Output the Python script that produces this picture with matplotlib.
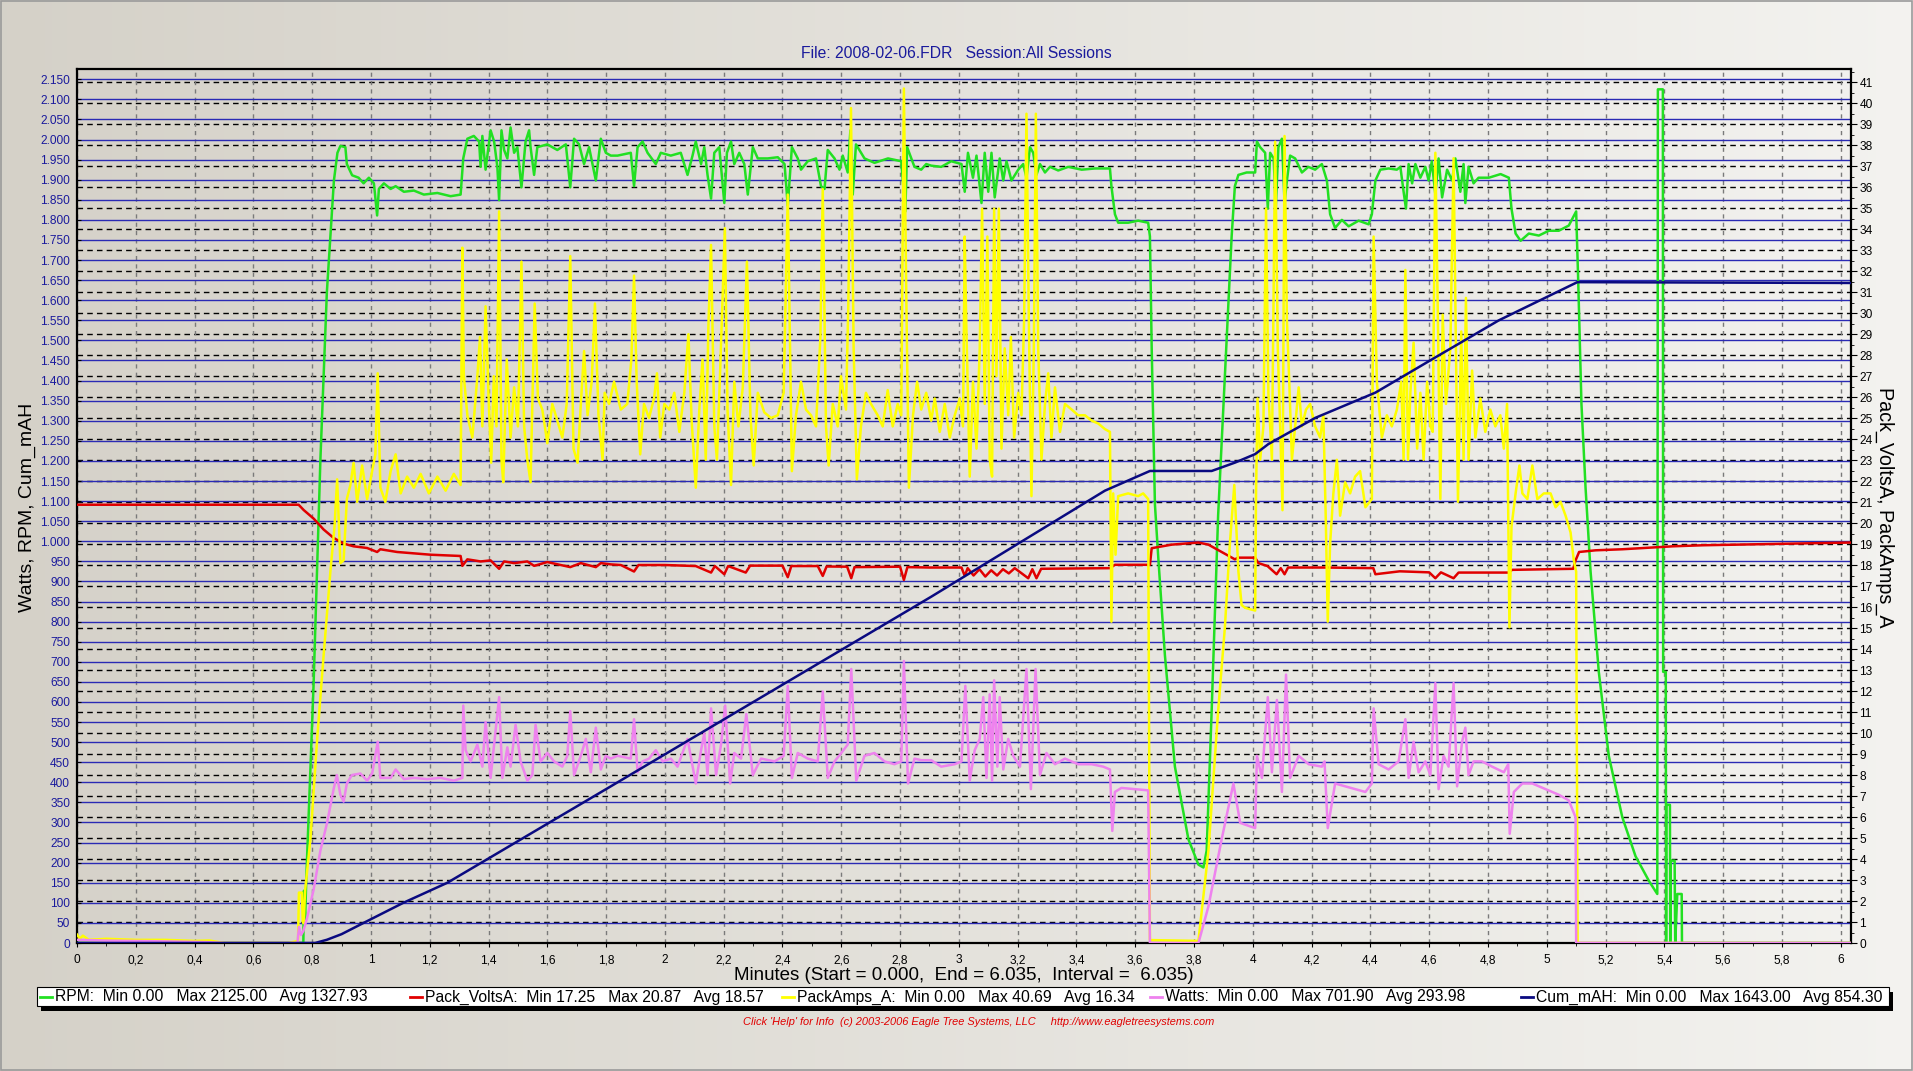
import numpy as np
import matplotlib
matplotlib.use("Agg")
import matplotlib.pyplot as plt
from matplotlib.ticker import MultipleLocator, FuncFormatter
from matplotlib.lines import Line2D
from matplotlib.patches import Rectangle

plt.rcParams['font.family'] = ['Liberation Sans', 'DejaVu Sans']

# ---- data (minutes vs value) ----
rpm_t = [0, 0.765, 0.770, 0.772, 0.776, 0.780, 0.805, 0.828, 0.85, 0.874, 0.886, 0.896, 0.913, 0.918, 0.936, 0.958,
         0.975, 0.993, 1.01, 1.021, 1.027, 1.044, 1.067, 1.084, 1.112, 1.146, 1.18, 1.226, 1.271, 1.305, 1.314, 1.328,
         1.35, 1.368, 1.373, 1.379, 1.39, 1.407, 1.419, 1.43, 1.436, 1.444, 1.453, 1.464, 1.475, 1.487, 1.498, 1.512,
         1.526, 1.538, 1.543, 1.555, 1.566, 1.6, 1.634, 1.663, 1.678, 1.691, 1.708, 1.725, 1.742, 1.765, 1.782, 1.799,
         1.816, 1.839, 1.884, 1.895, 1.907, 1.924, 1.941, 1.969, 1.986, 2.02, 2.054, 2.077, 2.094, 2.105, 2.123, 2.134,
         2.145, 2.157, 2.168, 2.185, 2.202, 2.211, 2.225, 2.236, 2.253, 2.27, 2.282, 2.299, 2.316, 2.35, 2.384, 2.407,
         2.418, 2.432, 2.452, 2.463, 2.486, 2.514, 2.531, 2.543, 2.554, 2.577, 2.594, 2.605, 2.622, 2.631, 2.639, 2.65,
         2.679, 2.713, 2.759, 2.804, 2.818, 2.824, 2.849, 2.872, 2.889, 2.906, 2.94, 2.974, 3.009, 3.02, 3.031, 3.048,
         3.06, 3.077, 3.088, 3.1, 3.111, 3.122, 3.139, 3.151, 3.162, 3.179, 3.202, 3.219, 3.23, 3.242, 3.253, 3.264,
         3.276, 3.293, 3.31, 3.338, 3.372, 3.418, 3.463, 3.514, 3.519, 3.531, 3.542, 3.576, 3.61, 3.644, 3.65, 3.656,
         3.667, 3.679, 3.701, 3.735, 3.781, 3.815, 3.832, 3.843, 3.86, 3.882, 3.905, 3.928, 3.939, 3.951, 3.979, 4.008,
         4.014, 4.025, 4.042, 4.051, 4.059, 4.071, 4.078, 4.087, 4.099, 4.108, 4.116, 4.127, 4.144, 4.167, 4.189, 4.212,
         4.235, 4.252, 4.263, 4.28, 4.303, 4.326, 4.36, 4.394, 4.405, 4.417, 4.434, 4.462, 4.49, 4.502, 4.513, 4.521,
         4.53, 4.542, 4.553, 4.57, 4.587, 4.598, 4.609, 4.621, 4.632, 4.644, 4.661, 4.678, 4.689, 4.706, 4.717, 4.723,
         4.734, 4.751, 4.768, 4.803, 4.843, 4.871, 4.88, 4.894, 4.911, 4.939, 4.973, 5.007, 5.041, 5.075, 5.093, 5.1,
         5.107, 5.118, 5.132, 5.149, 5.177, 5.211, 5.257, 5.302, 5.348, 5.376, 5.378, 5.395, 5.396, 5.405, 5.406, 5.407,
         5.419, 5.42, 5.422, 5.435, 5.437, 5.444, 5.459, 5.46, 6.035]
rpm = [0, 0, 0, 130, 60, 160, 647, 1203, 1620, 1898, 1967, 1984, 1981, 1939, 1911, 1905,
       1891, 1905, 1891, 1811, 1877, 1891, 1877, 1884, 1870, 1873, 1863, 1867, 1859, 1863, 1953, 2002,
       2009, 1995, 1932, 2009, 1925, 2023, 1995, 1932, 1849, 2023, 1974, 1953, 2030, 1967, 1981, 1881,
       1995, 2023, 1981, 1912, 1981, 1988, 1974, 1988, 1881, 2002, 1988, 1939, 1981, 1898, 2002, 1967,
       1960, 1960, 1967, 1884, 1981, 1995, 1967, 1939, 1967, 1960, 1967, 1912, 1960, 1995, 1939, 1981,
       1912, 1853, 1967, 1981, 1842, 1967, 1995, 1939, 1967, 1939, 1863, 1981, 1953, 1953, 1956, 1939,
       1835, 1981, 1953, 1925, 1946, 1953, 1884, 1877, 1974, 1953, 1925, 1960, 1918, 2023, 1863, 1988,
       1953, 1942, 1953, 1946, 1821, 1981, 1932, 1925, 1939, 1935, 1932, 1946, 1939, 1870, 1967, 1905,
       1960, 1842, 1967, 1870, 1967, 1856, 1953, 1898, 1946, 1898, 1925, 1939, 1905, 1981, 1967, 1912,
       1939, 1918, 1932, 1923, 1932, 1925, 1928, 1928, 1884, 1814, 1793, 1793, 1798, 1793, 1759, 1481,
       1092, 953, 716, 439, 258, 195, 188, 230, 578, 1064, 1411, 1759, 1884, 1912, 1918, 1918,
       1995, 1981, 1967, 1828, 1967, 1953, 1828, 1981, 2002, 1842, 1898, 1960, 1953, 1918, 1932, 1925,
       1939, 1898, 1814, 1780, 1800, 1784, 1798, 1789, 1814, 1898, 1925, 1928, 1925, 1932, 1870, 1828,
       1939, 1891, 1939, 1905, 1932, 1898, 1946, 1863, 1953, 1856, 1925, 1898, 1953, 1870, 1939, 1842,
       1932, 1891, 1905, 1905, 1914, 1905, 1828, 1766, 1748, 1766, 1761, 1773, 1773, 1786, 1811, 1821,
       1648, 1342, 1133, 925, 675, 466, 313, 216, 154, 122, 2125, 2125, 675, 675, 0, 344,
       344, 0, 205, 205, 0, 122, 122, 0, 0]

volts_t = [0, 0.754, 0.771, 0.805, 0.839, 0.873, 0.907, 0.941, 0.987, 1.021, 1.032, 1.089, 1.203, 1.305, 1.311,
           1.328, 1.373, 1.407, 1.436, 1.453, 1.487, 1.532, 1.555, 1.6, 1.678, 1.714, 1.765, 1.782, 1.816, 1.85,
           1.895, 1.91, 2.0, 2.105, 2.157, 2.17, 2.202, 2.215, 2.275, 2.29, 2.4, 2.418, 2.43, 2.52, 2.537, 2.55,
           2.62, 2.634, 2.645, 2.8, 2.813, 2.825, 2.9, 3.009, 3.02, 3.03, 3.05, 3.07, 3.09, 3.11, 3.13, 3.15,
           3.17, 3.19, 3.236, 3.25, 3.264, 3.28, 3.514, 3.531, 3.65, 3.656, 3.724, 3.815, 3.849, 3.894, 3.939,
           3.95, 4.008, 4.019, 4.05, 4.081, 4.095, 4.108, 4.12, 4.25, 4.41, 4.417, 4.5, 4.6, 4.621, 4.64, 4.683,
           4.7, 4.87, 4.882, 5.09, 5.098, 5.11, 5.166, 5.257, 5.428, 5.53, 6.035]
volts = [20.87, 20.87, 20.62, 20.21, 19.69, 19.29, 19.02, 18.89, 18.81, 18.62, 18.75, 18.62, 18.49, 18.43, 17.96,
         18.27, 18.17, 18.22, 17.82, 18.17, 18.09, 18.17, 17.96, 18.14, 17.9, 18.09, 17.9, 18.09, 18.03, 18.0,
         17.69, 18.0, 18.0, 17.95, 17.64, 17.95, 17.56, 17.95, 17.64, 17.97, 17.97, 17.42, 17.95, 17.95, 17.48, 17.93,
         17.92, 17.37, 17.9, 17.92, 17.29, 17.9, 17.88, 17.88, 17.48, 17.85, 17.5, 17.8, 17.45, 17.75, 17.5, 17.8,
         17.6, 17.85, 17.37, 17.8, 17.37, 17.82, 17.85, 18.01, 18.01, 18.8, 18.97, 19.07, 18.97, 18.62, 18.27,
         18.35, 18.35, 18.09, 17.95, 17.56, 17.85, 17.56, 17.88, 17.88, 17.85, 17.56, 17.7, 17.65, 17.37, 17.65, 17.37,
         17.64, 17.64, 17.77, 17.82, 18.22, 18.62, 18.7, 18.75, 18.89, 18.94, 19.07]

amps_t = [0, 0.01, 0.02, 0.04, 0.1, 0.2, 0.3, 0.4, 0.45, 0.5, 0.72, 0.752, 0.755, 0.765, 0.768, 0.771, 0.776, 0.794,
          0.817, 0.839, 0.862, 0.876, 0.885, 0.896, 0.907, 0.918, 0.93, 0.941, 0.953, 0.97, 0.987, 1.004, 1.015,
          1.023, 1.032, 1.049, 1.067, 1.084, 1.101, 1.123, 1.146, 1.169, 1.197, 1.226, 1.254, 1.282, 1.305, 1.311,
          1.316, 1.328, 1.345, 1.362, 1.371, 1.379, 1.39, 1.401, 1.409, 1.418, 1.427, 1.436, 1.444, 1.45, 1.462,
          1.475, 1.487, 1.5, 1.512, 1.521, 1.532, 1.543, 1.557, 1.568, 1.583, 1.6, 1.617, 1.634, 1.651, 1.666,
          1.678, 1.689, 1.703, 1.714, 1.725, 1.737, 1.751, 1.762, 1.774, 1.788, 1.795, 1.81, 1.827, 1.85, 1.872,
          1.886, 1.895, 1.904, 1.916, 1.929, 1.946, 1.963, 1.973, 1.984, 1.998, 2.015, 2.032, 2.049, 2.066, 2.08,
          2.091, 2.105, 2.117, 2.128, 2.139, 2.148, 2.157, 2.168, 2.177, 2.188, 2.204, 2.213, 2.225, 2.236, 2.25,
          2.265, 2.279, 2.291, 2.302, 2.316, 2.338, 2.361, 2.384, 2.404, 2.418, 2.432, 2.446, 2.463, 2.48, 2.497,
          2.514, 2.529, 2.537, 2.548, 2.557, 2.571, 2.588, 2.599, 2.616, 2.624, 2.633, 2.642, 2.653, 2.667, 2.684,
          2.701, 2.724, 2.741, 2.758, 2.775, 2.792, 2.804, 2.813, 2.821, 2.83, 2.844, 2.858, 2.872, 2.889, 2.906,
          2.918, 2.935, 2.952, 2.969, 2.986, 3.003, 3.014, 3.02, 3.025, 3.037, 3.048, 3.06, 3.071, 3.079, 3.088,
          3.097, 3.105, 3.113, 3.12, 3.128, 3.136, 3.145, 3.156, 3.168, 3.177, 3.188, 3.202, 3.213, 3.222, 3.23,
          3.238, 3.247, 3.255, 3.262, 3.27, 3.281, 3.293, 3.304, 3.315, 3.327, 3.344, 3.361, 3.384, 3.406, 3.429,
          3.452, 3.474, 3.497, 3.514, 3.519, 3.525, 3.533, 3.542, 3.576, 3.61, 3.627, 3.644, 3.65, 3.815, 3.849,
          3.882, 3.905, 3.922, 3.937, 3.951, 3.962, 3.974, 4.008, 4.011, 4.016, 4.025, 4.036, 4.045, 4.053, 4.065,
          4.076, 4.085, 4.093, 4.101, 4.108, 4.116, 4.124, 4.133, 4.144, 4.156, 4.167, 4.181, 4.195, 4.212, 4.229,
          4.24, 4.248, 4.255, 4.263, 4.274, 4.286, 4.297, 4.314, 4.331, 4.348, 4.365, 4.383, 4.405, 4.411, 4.422,
          4.439, 4.456, 4.473, 4.49, 4.505, 4.513, 4.519, 4.528, 4.536, 4.547, 4.559, 4.57, 4.581, 4.593, 4.604,
          4.612, 4.621, 4.63, 4.638, 4.646, 4.657, 4.672, 4.683, 4.691, 4.698, 4.709, 4.717, 4.725, 4.734, 4.746,
          4.757, 4.774, 4.791, 4.808, 4.825, 4.842, 4.854, 4.865, 4.873, 4.88, 4.894, 4.907, 4.917, 4.934, 4.951,
          4.968, 4.99, 5.013, 5.03, 5.047, 5.064, 5.081, 5.092, 5.1, 5.104, 5.105, 6.035]
amps = [0.4, 0.2, 0.35, 0.15, 0.2, 0.15, 0.15, 0.1, 0.12, 0.0, 0.0, 0.1, 2.4, 2.4, 1.0, 0.94, 2.5, 4.93,
        9.71, 13.7, 17.69, 19.82, 22.08, 18.09, 18.22, 21.14, 21.81, 22.87, 21.01, 22.74, 21.14, 22.47, 23.27,
        27.13, 21.68, 21.01, 22.47, 23.27, 21.41, 22.21, 21.68, 22.34, 21.41, 22.21, 21.54, 22.34, 21.81, 33.11,
        26.99, 25.13, 24.07, 26.99, 28.86, 24.6, 30.32, 25.67, 22.87, 26.99, 24.6, 34.84, 23.01, 21.94, 27.79,
        24.07, 26.46, 24.6, 32.45, 24.6, 23.01, 21.94, 30.45, 25.93, 25.4, 23.8, 25.67, 24.87, 24.07, 25.67,
        32.71, 23.54, 22.87, 25.67, 28.19, 25.13, 26.73, 30.45, 25.13, 23.01, 26.2, 25.67, 26.73, 25.4, 25.67,
        27.79, 31.78, 26.73, 23.27, 25.67, 25.0, 25.93, 27.13, 24.07, 25.67, 25.4, 26.2, 24.34, 26.2, 28.99,
        24.87, 21.68, 25.4, 27.79, 23.01, 29.39, 33.24, 24.6, 23.01, 27.26, 34.04, 25.4, 21.81, 26.73, 24.6,
        26.46, 32.45, 25.13, 22.74, 26.2, 25.27, 25.0, 25.13, 26.2, 35.64, 22.47, 25.13, 26.73, 25.4, 25.13,
        24.6, 28.86, 35.9, 24.6, 22.74, 25.67, 24.6, 26.99, 25.4, 30.45, 39.76, 28.32, 22.08, 24.6, 26.2,
        25.67, 25.13, 24.6, 26.33, 24.6, 25.67, 25.13, 40.69, 30.98, 21.68, 25.13, 26.73, 25.4, 26.2, 24.87,
        25.93, 24.34, 25.67, 24.07, 25.13, 25.93, 24.6, 33.64, 29.65, 22.21, 26.73, 23.54, 28.32, 34.97, 25.67,
        33.64, 23.01, 22.21, 34.97, 26.99, 34.97, 23.54, 28.32, 25.13, 28.86, 24.07, 26.2, 25.13, 29.65, 39.49,
        29.65, 21.28, 28.32, 39.49, 28.32, 23.01, 25.67, 27.13, 24.07, 26.46, 24.34, 25.67, 25.4, 25.13, 25.13,
        24.87, 24.74, 24.47, 24.34, 15.3, 21.41, 18.49, 21.28, 21.41, 21.28, 21.41, 21.14, 0.14, 0.1, 4.39,
        11.04, 15.03, 19.02, 21.81, 17.69, 16.09, 15.96, 15.83, 21.41, 25.93, 23.01, 24.6, 34.97, 26.2, 23.01,
        38.16, 28.32, 24.6, 20.61, 38.43, 29.65, 26.73, 23.01, 24.6, 26.46, 24.6, 25.4, 25.67, 24.6, 24.07,
        25.13, 20.35, 15.3, 19.02, 21.41, 23.01, 20.35, 21.94, 21.41, 22.21, 22.47, 20.75, 21.14, 33.64, 26.73,
        24.07, 25.13, 24.6, 25.4, 26.73, 23.01, 32.05, 23.01, 26.2, 28.59, 23.54, 26.2, 23.01, 26.73, 24.6,
        24.34, 37.63, 29.39, 21.14, 29.92, 25.67, 28.32, 37.37, 28.32, 21.01, 29.12, 23.01, 30.72, 23.01, 27.26,
        24.07, 25.93, 24.34, 25.4, 24.6, 25.13, 23.54, 25.67, 15.03, 19.82, 21.41, 22.74, 21.41, 21.14, 22.74,
        21.14, 21.41, 21.41, 20.75, 21.01, 20.35, 19.55, 18.22, 17.69, 3.33, 0.0, 0.0]

watts_t = [0, 0.1, 0.3, 0.45, 0.5, 0.75, 0.755, 0.762, 0.77, 0.783, 0.805, 0.828, 0.851, 0.873, 0.884, 0.896, 0.907,
           0.918, 0.935, 0.964, 0.987, 1.004, 1.023, 1.032, 1.067, 1.084, 1.112, 1.146, 1.191, 1.237, 1.282, 1.311,
           1.314, 1.322, 1.339, 1.362, 1.379, 1.39, 1.407, 1.421, 1.436, 1.447, 1.464, 1.475, 1.492, 1.509, 1.532,
           1.549, 1.56, 1.577, 1.6, 1.623, 1.651, 1.668, 1.678, 1.691, 1.714, 1.731, 1.748, 1.765, 1.782, 1.799,
           1.816, 1.839, 1.884, 1.895, 1.907, 1.924, 1.946, 1.969, 1.992, 2.02, 2.043, 2.077, 2.105, 2.123, 2.134,
           2.145, 2.157, 2.174, 2.191, 2.205, 2.222, 2.236, 2.259, 2.277, 2.299, 2.327, 2.373, 2.404, 2.418, 2.432,
           2.452, 2.486, 2.52, 2.537, 2.554, 2.577, 2.6, 2.622, 2.634, 2.651, 2.679, 2.713, 2.747, 2.781, 2.804,
           2.813, 2.827, 2.849, 2.872, 2.906, 2.94, 2.986, 3.009, 3.022, 3.037, 3.054, 3.071, 3.083, 3.094, 3.105,
           3.113, 3.12, 3.131, 3.139, 3.151, 3.168, 3.185, 3.208, 3.23, 3.245, 3.261, 3.276, 3.298, 3.327, 3.361,
           3.406, 3.452, 3.491, 3.514, 3.522, 3.531, 3.553, 3.599, 3.644, 3.65, 3.815, 3.849, 3.894, 3.934, 3.957,
           4.008, 4.014, 4.031, 4.051, 4.065, 4.082, 4.099, 4.113, 4.127, 4.156, 4.19, 4.235, 4.244, 4.255, 4.28,
           4.314, 4.349, 4.383, 4.405, 4.411, 4.428, 4.462, 4.496, 4.519, 4.53, 4.547, 4.564, 4.587, 4.604, 4.621,
           4.632, 4.649, 4.666, 4.683, 4.695, 4.712, 4.723, 4.734, 4.751, 4.78, 4.814, 4.854, 4.869, 4.874, 4.888,
           4.917, 4.951, 4.996, 5.041, 5.075, 5.098, 5.1, 6.035]
watts = [8, 6, 4, 2, 0, 0, 40, 20, 30, 63, 133, 230, 300, 383, 418, 369, 352,
         397, 418, 422, 404, 422, 501, 411, 411, 432, 408, 411, 408, 411, 404, 411,
         591, 480, 452, 494, 439, 550, 411, 508, 612, 411, 487, 439, 543, 452, 404,
         418, 543, 452, 473, 452, 439, 466, 577, 418, 466, 508, 425, 536, 432, 466,
         459, 466, 459, 557, 425, 452, 459, 480, 452, 459, 439, 508, 397, 480, 522,
         418, 584, 418, 494, 591, 397, 473, 459, 570, 418, 459, 452, 466, 640, 411,
         473, 459, 452, 626, 411, 452, 473, 494, 682, 404, 466, 473, 452, 445, 452,
         702, 397, 459, 455, 455, 439, 445, 452, 640, 404, 480, 508, 612, 411, 619,
         404, 654, 439, 612, 432, 508, 466, 439, 682, 383, 682, 418, 473, 445, 459,
         445, 445, 439, 432, 279, 376, 386, 383, 380, 0, 0, 91, 258, 397, 299,
         286, 466, 411, 612, 425, 605, 376, 668, 411, 466, 445, 439, 452, 286, 397,
         390, 383, 376, 397, 584, 445, 432, 452, 557, 411, 501, 425, 452, 418, 647,
         383, 466, 439, 647, 390, 501, 536, 418, 452, 452, 439, 425, 445, 272, 376,
         397, 397, 383, 369, 355, 313, 0, 0]

mah_t = [0, 0.81, 0.85, 0.9, 0.975, 1.11, 1.26, 1.816, 2.906, 3.497, 3.65, 3.86, 3.94, 4.008, 4.053, 4.212,
         4.417, 4.61, 4.837, 5.104, 6.035]
mah = [0, 0, 8, 22, 50, 100, 150, 390, 862, 1126, 1175, 1175, 1196, 1217, 1242, 1307,
       1370, 1453, 1550, 1645, 1643]

legend_txt = ["RPM:  Min 0.00   Max 2125.00   Avg 1327.93",
              "Pack_VoltsA:  Min 17.25   Max 20.87   Avg 18.57",
              "PackAmps_A:  Min 0.00   Max 40.69   Avg 16.34",
              "Watts:  Min 0.00   Max 701.90   Avg 293.98",
              "Cum_mAH:  Min 0.00   Max 1643.00   Avg 854.30"]
c_rpm, c_volt, c_amp, c_watt, c_mah = '#22e022', '#e00000', '#ffff00', '#ee82ee', '#0a0a80'

W, H = 1913, 1071
fig = plt.figure(figsize=(W / 100, H / 100), dpi=100)

# grey gradient background
bg = fig.add_axes([0, 0, 1, 1], zorder=-5)
grad = np.linspace(0, 1, 256)[None, :, None]
c0 = np.array([0.835, 0.82, 0.785])[None, None, :]
c1 = np.array([0.955, 0.952, 0.94])[None, None, :]
bg.imshow(c0 + (c1 - c0) * grad, aspect='auto', extent=[0, 1, 0, 1])
bg.add_patch(Rectangle((0.0005, 0.001), 0.999, 0.998, fill=False, ec='#9a9a9a', lw=1.2))
bg.set_xlim(0, 1); bg.set_ylim(0, 1); bg.axis('off')

pos = [77 / W, 1 - 943 / H, (1851 - 77) / W, (943 - 69) / H]
ax = fig.add_axes(pos)
ax2 = ax.twinx()
ax.set_zorder(2); ax2.set_zorder(1)
ax.patch.set_visible(False); ax2.patch.set_visible(False)

ax.set_xlim(0, 6.035)
ax.set_ylim(0, 2175.6)
ax2.set_ylim(0, 41.62)

# grids
ax.yaxis.set_major_locator(MultipleLocator(50))
ax.xaxis.set_major_locator(MultipleLocator(0.2))
ax.xaxis.set_minor_locator(MultipleLocator(0.1))
ax2.yaxis.set_major_locator(MultipleLocator(1))
ax2.yaxis.set_minor_locator(MultipleLocator(0.5))
ax.set_axisbelow(True); ax2.set_axisbelow(True)
ax.grid(axis='y', color='#2a2ab4', lw=1.0)
ax.grid(axis='x', color='#7a7a7a', lw=1.0, ls=(0, (3, 3)))
ax2.grid(axis='y', color='black', lw=1.0, ls=(0, (4, 3)))

# series in legend order (later on top); amps/volts use the right-hand scale
ax.plot(rpm_t, rpm, color=c_rpm, lw=1.8, zorder=3)
ax.plot(volts_t, volts, color=c_volt, lw=1.8, zorder=4, transform=ax2.transData)
ax.plot(amps_t, amps, color=c_amp, lw=1.8, zorder=5, transform=ax2.transData)
ax.plot(watts_t, watts, color=c_watt, lw=1.8, zorder=6)
ax.plot(mah_t, mah, color=c_mah, lw=1.8, zorder=7)

ax.xaxis.set_major_formatter(FuncFormatter(
    lambda v, p: '%d' % round(v) if abs(v - round(v)) < 1e-6 else ('%.1f' % v).replace('.', ',')))
ax.yaxis.set_major_formatter(FuncFormatter(lambda v, p: '{:,}'.format(int(round(v))).replace(',', '.')))
ax2.yaxis.set_major_formatter(FuncFormatter(lambda v, p: '%d' % round(v)))

ax.tick_params(axis='y', direction='in', length=3, labelsize=8.6, labelcolor='#1a1a9c', pad=5)
ax.tick_params(axis='x', which='major', direction='out', length=3, labelsize=8.6, pad=5)
ax.tick_params(axis='x', which='minor', direction='out', length=2)
ax2.tick_params(axis='y', which='major', direction='out', length=4, labelsize=8.6, pad=2)
ax2.tick_params(axis='y', which='minor', direction='out', length=2)
for s in ax.spines.values():
    s.set_linewidth(1.6)
for s in ax2.spines.values():
    s.set_visible(False)

# texts
fig.text(956 / W, 1 - 53 / H, "File: 2008-02-06.FDR   Session:All Sessions", color='#1a1a9c',
         fontsize=11.3, ha='center', va='center')
fig.text(27 / W, 1 - 507 / H, "Watts, RPM, Cum_mAH", rotation=90, fontsize=14, ha='center', va='center')
fig.text(1885 / W, 1 - 507 / H, "Pack_VoltsA, PackAmps_A", rotation=-90, fontsize=14.2, ha='center', va='center')
fig.text(964 / W, 1 - 976 / H, "Minutes (Start = 0.000,  End = 6.035,  Interval =  6.035)",
         fontsize=13.5, ha='center', va='center')

# legend box with shadow
bg.add_patch(Rectangle((41 / W, 1 - 1011 / H), (1893 - 41) / W, 19 / H, fc='black', ec='none'))
bg.add_patch(Rectangle((37 / W, 1 - 1006 / H), (1889 - 37) / W, 19 / H, fc='white', ec='black', lw=0.8))
leg_x = [40, 410, 782, 1150, 1521]
leg_c = [c_rpm, c_volt, c_amp, c_watt, c_mah]
ly = 1 - 997 / H
for x0, col, txt in zip(leg_x, leg_c, legend_txt):
    fig.add_artist(Line2D([x0 / W, (x0 + 12) / W], [ly, ly], color=col, lw=2, transform=fig.transFigure))
    fig.text((x0 + 15) / W, ly, txt, fontsize=11.3, va='center', ha='left')

fig.text(979 / W, 1 - 1022 / H,
         "Click 'Help' for Info  (c) 2003-2006 Eagle Tree Systems, LLC     http://www.eagletreesystems.com",
         color='#e00000', fontsize=7.9, style='italic', ha='center', va='center')

fig.savefig('out.png', dpi=100)
